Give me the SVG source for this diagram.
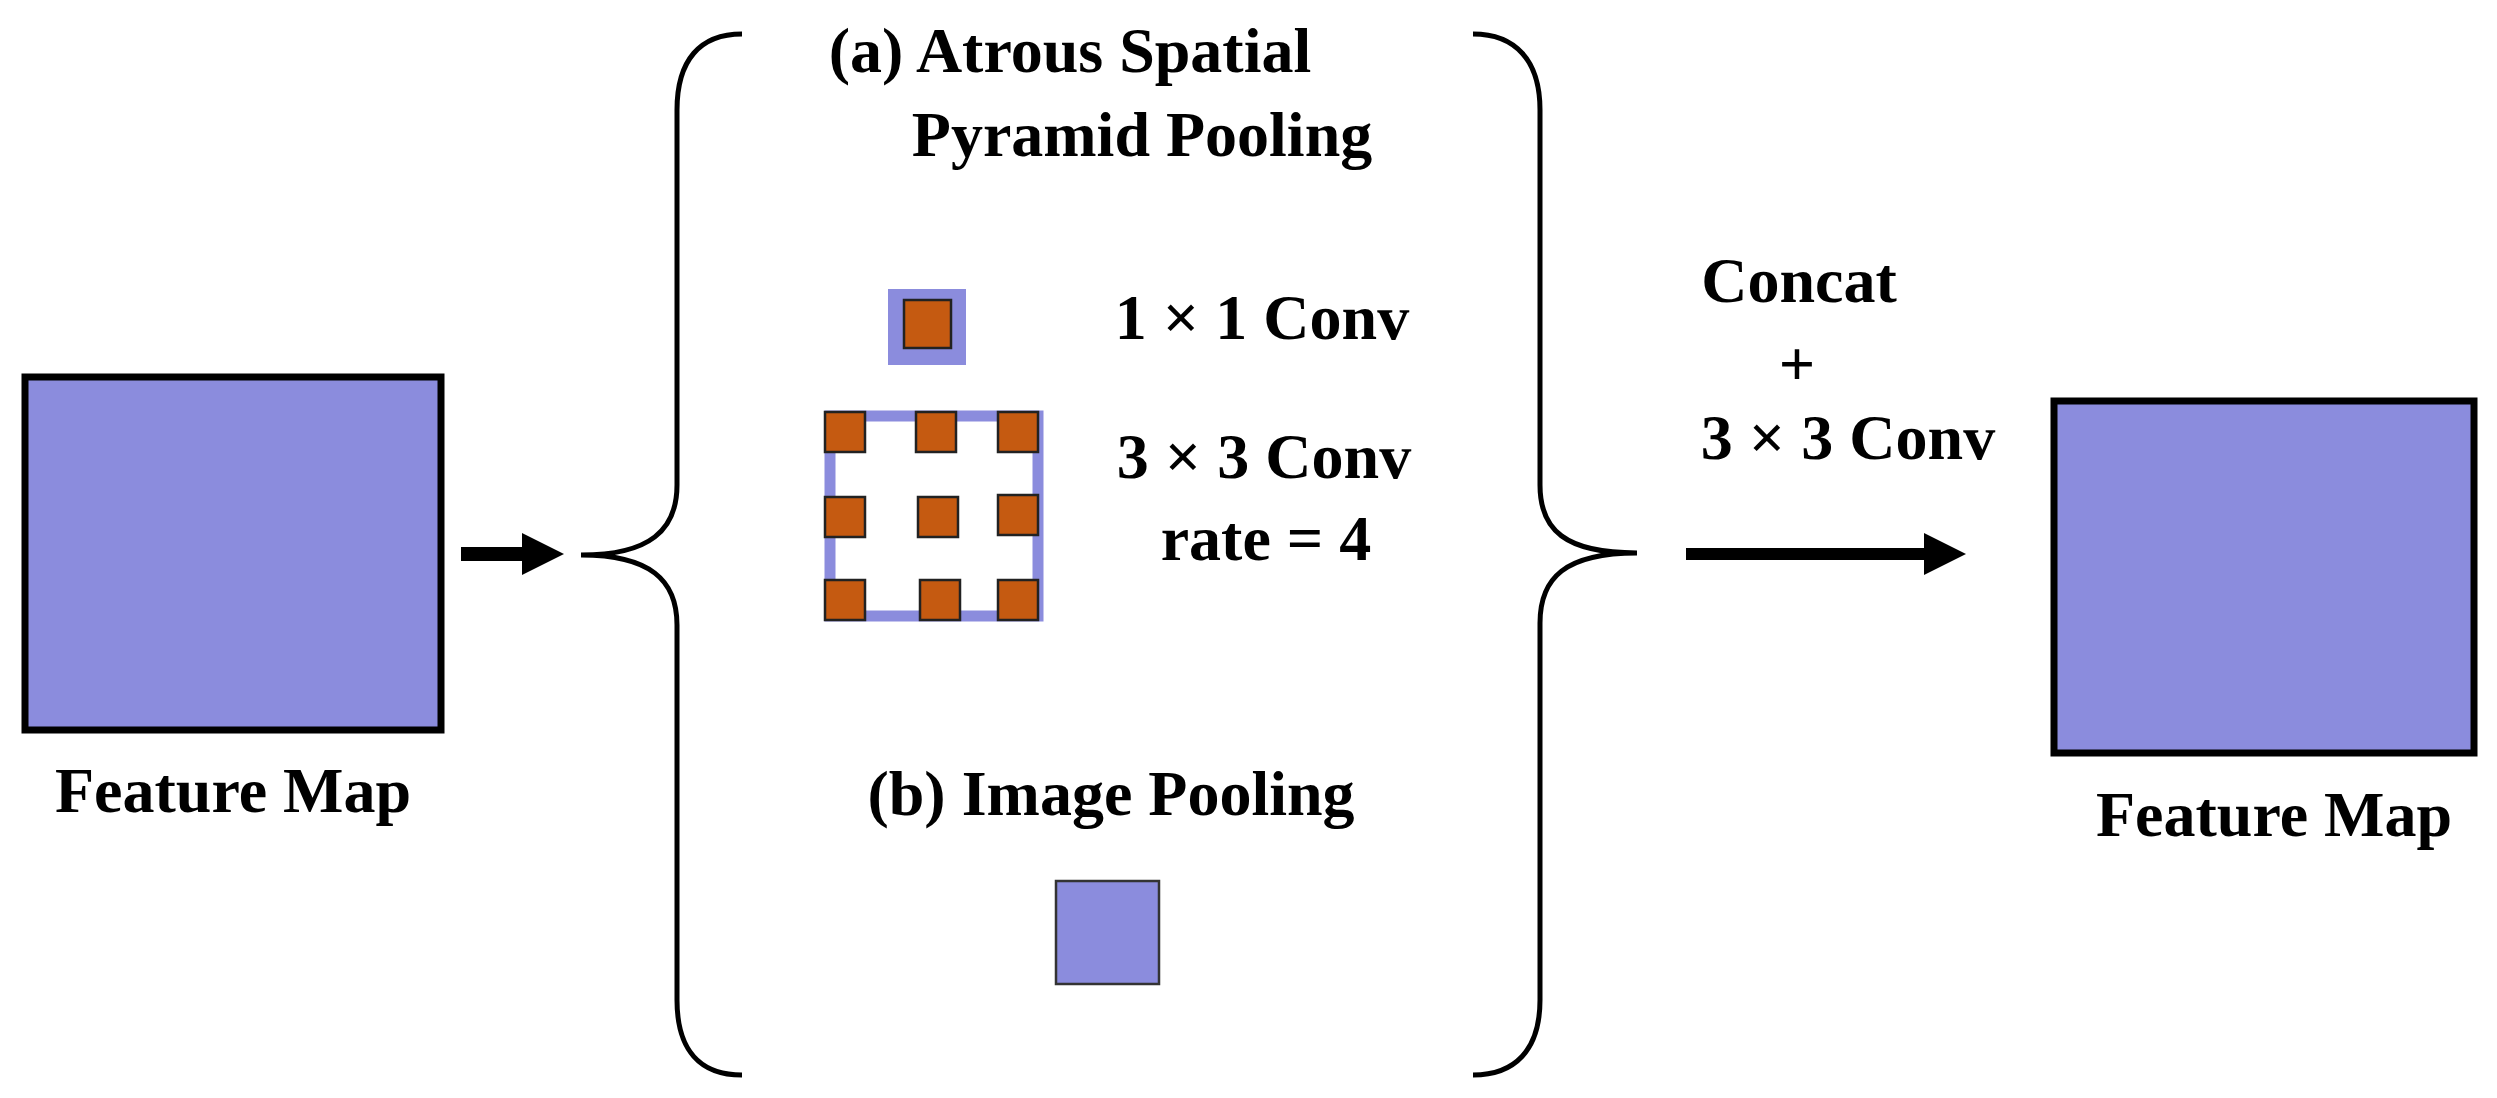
<svg xmlns="http://www.w3.org/2000/svg" width="2497" height="1098" viewBox="0 0 2497 1098">
<style>
text{font-family:"Liberation Serif","Times New Roman",serif;font-weight:bold;font-size:64px;fill:#000;text-anchor:middle}
.fm{fill:#8b8cdd;stroke:#000;stroke-width:7}
.br{fill:none;stroke:#000;stroke-width:5}
.k{fill:#c55a11;stroke:#222;stroke-width:2.5}
</style>
<g id="input">
<rect class="fm" x="25" y="377" width="416" height="353"/>
<text x="233" y="812">Feature Map</text>
</g>
<g id="aspp">
<path class="br" d="M742,34 C700,34 677,60 677,110 L677,485 C677,530 650,555 581,555 M581,555 C650,555 677,580 677,625 L677,1000 C677,1050 700,1075 742,1075"/>
<text x="1070" y="72">(a)   Atrous Spatial</text>
<text x="1142" y="156">Pyramid Pooling</text>
<rect x="888" y="289" width="78" height="76" fill="#8b8cdd"/>
<rect class="k" x="904" y="300" width="47" height="48"/>
<text x="1262" y="339">1 × 1 Conv</text>
<rect x="830" y="416" width="208" height="200" fill="none" stroke="#8b8cdd" stroke-width="11"/>
<rect class="k" x="825" y="412" width="40" height="40"/>
<rect class="k" x="916" y="412" width="40" height="40"/>
<rect class="k" x="998" y="412" width="40" height="40"/>
<rect class="k" x="825" y="497" width="40" height="40"/>
<rect class="k" x="918" y="497" width="40" height="40"/>
<rect class="k" x="998" y="495" width="40" height="40"/>
<rect class="k" x="825" y="580" width="40" height="40"/>
<rect class="k" x="920" y="580" width="40" height="40"/>
<rect class="k" x="998" y="580" width="40" height="40"/>
<text x="1264" y="478">3 × 3 Conv</text>
<text x="1266" y="560">rate = 4</text>
<text x="1111" y="815">(b) Image Pooling</text>
<rect x="1056" y="881" width="103" height="103" fill="#8b8cdd" stroke="#333" stroke-width="2.5"/>
<path class="br" d="M1473,34 C1515,34 1540,60 1540,110 L1540,485 C1540,530 1565,553 1637,553 M1637,553 C1565,553 1540,578 1540,623 L1540,1000 C1540,1050 1515,1075 1473,1075"/>
</g>
<g id="output">
<rect class="fm" x="2054" y="401" width="420" height="352"/>
<text x="2274" y="836">Feature Map</text>
</g>
<g id="connectors">
<path d="M461,547 L522,547 L522,533 L564,554 L522,575 L522,561 L461,561 Z" fill="#000"/>
<path d="M1686,548 L1924,548 L1924,533 L1966,554 L1924,575 L1924,560 L1686,560 Z" fill="#000"/>
<text x="1799" y="302">Concat</text>
<text x="1797" y="385">+</text>
<text x="1848" y="459">3 × 3 Conv</text>
</g>
</svg>
